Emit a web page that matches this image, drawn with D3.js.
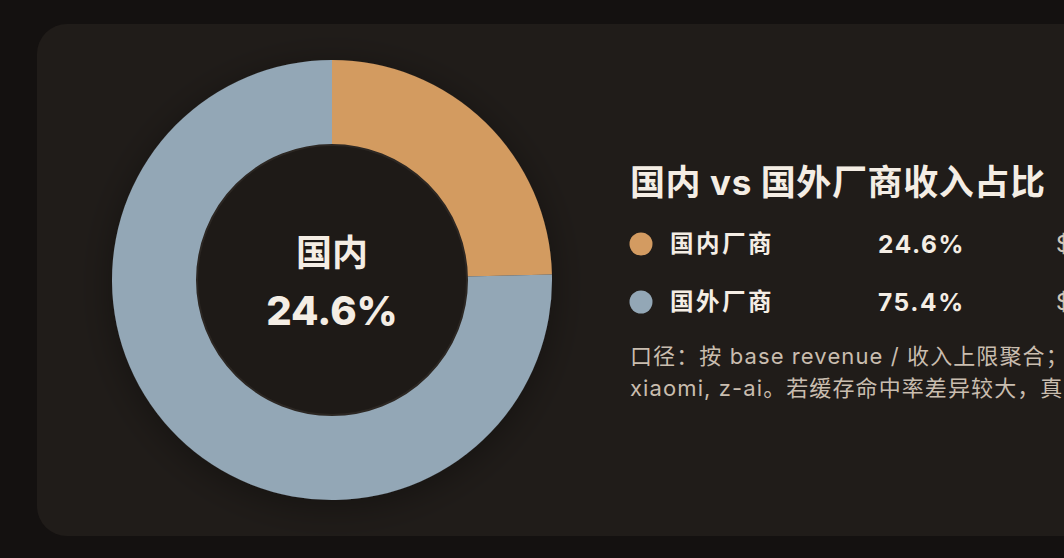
<!DOCTYPE html>
<html lang="zh-CN">
<head>
    <meta charset="UTF-8">
    <title>国内 vs 国外厂商收入占比</title>
    <script src="https://cdnjs.cloudflare.com/ajax/libs/d3/7.8.5/d3.min.js"></script>
    <style>
        html, body { margin: 0; padding: 0; background: #141110; overflow: hidden; }
        svg { display: block; font-family: Inter, "Noto Sans CJK SC", sans-serif; }
    </style>
</head>
<body>
    <div id="chart"></div>
    <script>
        // 数据
        const categories = ["国内厂商", "国外厂商"];
        const shares = [24.6, 75.4];
        const colors = ["#d39b61", "#93a7b6"];
        const centerLabel = "国内";
        const noteLines = [
            "口径：按 base revenue / 收入上限聚合；",
            "xiaomi, z-ai。若缓存命中率差异较大，真"
        ];

        const width = 1064, height = 558;

        const svg = d3.select("#chart")
            .append("svg")
            .attr("width", width)
            .attr("height", height);

        const defs = svg.append("defs");
        const shadow = defs.append("filter")
            .attr("id", "shadow")
            .attr("x", "-30%").attr("y", "-30%")
            .attr("width", "160%").attr("height", "160%");
        shadow.append("feDropShadow")
            .attr("dx", 0).attr("dy", 6)
            .attr("stdDeviation", 18)
            .attr("flood-color", "#000")
            .attr("flood-opacity", 0.35);

        // 卡片
        svg.append("rect")
            .attr("x", 37).attr("y", 24)
            .attr("width", 1100).attr("height", 512)
            .attr("rx", 30)
            .attr("fill", "#201c19");

        // 环形图
        const cx = 332, cy = 280, outerR = 220, innerR = 135;
        const data = categories.map((c, i) => ({ name: c, value: shares[i], color: colors[i] }));

        const pie = d3.pie().value(d => d.value).sort(null);
        const arc = d3.arc().innerRadius(innerR).outerRadius(outerR);

        const g = svg.append("g")
            .attr("transform", `translate(${cx},${cy})`);

        g.append("g")
            .attr("filter", "url(#shadow)")
            .selectAll("path")
            .data(pie(data))
            .join("path")
            .attr("d", arc)
            .attr("fill", d => d.data.color);

        g.append("circle")
            .attr("r", innerR)
            .attr("fill", "#1e1a17")
            .attr("stroke", "#2c2723")
            .attr("stroke-width", 2);

        g.append("text")
            .attr("y", -14)
            .attr("text-anchor", "middle")
            .attr("fill", "#f4ede4")
            .attr("font-size", 36)
            .attr("font-weight", 700)
            .text(centerLabel);

        g.append("text")
            .attr("y", 45)
            .attr("text-anchor", "middle")
            .attr("fill", "#f4ede4")
            .attr("font-size", 40)
            .attr("font-weight", 800)
            .text(d3.format(".1f")(shares[0]) + "%");

        // 标题与图例
        svg.append("text")
            .attr("x", 630).attr("y", 195)
            .attr("fill", "#f4ede4")
            .attr("font-size", 35)
            .attr("font-weight", 700)
            .attr("letter-spacing", 0.6)
            .text("国内 vs 国外厂商收入占比");

        const rowY = d3.scalePoint().domain(categories).range([244, 302]);

        const rows = svg.append("g")
            .selectAll("g")
            .data(data)
            .join("g")
            .attr("transform", d => `translate(0,${rowY(d.name)})`);

        rows.append("circle")
            .attr("cx", 641).attr("r", 11.5)
            .attr("fill", d => d.color);

        rows.append("text")
            .attr("x", 670).attr("dy", "0.36em")
            .attr("fill", "#f4ede4")
            .attr("font-size", 23.5)
            .attr("font-weight", 700)
            .attr("letter-spacing", 2.5)
            .text(d => d.name);

        rows.append("text")
            .attr("x", 878).attr("dy", "0.36em")
            .attr("fill", "#f4ede4")
            .attr("font-size", 24.5)
            .attr("font-weight", 700)
            .attr("letter-spacing", 1.6)
            .text(d => d3.format(".1f")(d.value) + "%");

        rows.append("text")
            .attr("x", 1056).attr("dy", "0.36em")
            .attr("fill", "#cfc5b8")
            .attr("font-size", 23)
            .text("$");

        // 注释
        svg.append("g")
            .selectAll("text")
            .data(noteLines)
            .join("text")
            .attr("x", 630)
            .attr("y", (d, i) => 364 + i * 32)
            .attr("fill", "#c9bdaf")
            .attr("font-size", 22)
            .attr("letter-spacing", 1.1)
            .text(d => d);
    </script>
</body>
</html>
